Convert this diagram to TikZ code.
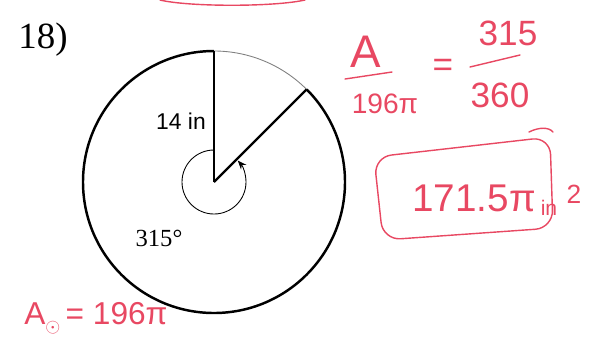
\documentclass[tikz,border=0pt]{standalone}
\usepackage{fontspec}
\setmainfont{Liberation Serif}
\setsansfont{Liberation Sans}
\usetikzlibrary{arrows.meta}
\definecolor{marker}{RGB}{232,72,98}

\begin{document}
\begin{tikzpicture}[
  >=Stealth,
  rim/.style={line width=1.4pt},
  faint/.style={line width=0.5pt, black!50},
  spoke/.style={line width=1.3pt},
  sweep/.style={-{Stealth[length=5pt,width=4pt]}, line width=0.5pt},
  ink/.style={text=marker, font=\sffamily, inner sep=0pt},
  stroke/.style={draw=marker, line width=0.8pt, line cap=round},
]
  \useasboundingbox (-4.28,-3.36) rectangle (7.82,3.64);
  % the circle and the cut-out sector
  \coordinate (O) at (0,0);
  \coordinate (top) at (90:2.62);
  \coordinate (cut) at (45:2.62);
  \draw[rim] (top) arc[start angle=90, end angle=405, radius=2.62];
  \draw[faint] (cut) arc[start angle=45, end angle=90, radius=2.62];
  \draw[spoke] (O) -- (top);
  \draw[spoke] (O) -- (cut);
  \draw[sweep] (90:0.64) arc[start angle=90, end angle=402, radius=0.64];
  \node[font=\fontsize{21}{24}\selectfont] (num) at (-3.42,2.84) {18)};
  \node[font=\sffamily\fontsize{13}{15}\selectfont] (rad) at (-0.66,1.22) {14 in};
  \node[font=\fontsize{14}{16}\selectfont] (ang) at (-1.1,-1.12) {315\textdegree};
  % red pen work
  \draw[stroke] (-1.08,3.64) .. controls (-0.5,3.5) and (1.2,3.5) .. (1.82,3.64);
  \node[ink, font=\sffamily\fontsize{26}{28}\selectfont] (part) at (3.04,2.6) {A};
  \draw[stroke] (2.62,2.06) -- (3.56,2.2);
  \node[ink, font=\sffamily\fontsize{16}{18}\selectfont] (whole) at (3.42,1.56) {196π};
  \node[ink, font=\sffamily\fontsize{20}{22}\selectfont] (eq) at (4.58,2.28) {=};
  \node[ink, font=\sffamily\fontsize{20}{22}\selectfont] (deg) at (5.88,2.98) {315};
  \draw[stroke] (5.12,2.3) -- (6.12,2.54);
  \node[ink, font=\sffamily\fontsize{20}{22}\selectfont] (full) at (5.72,1.74) {360};
  \node[ink, font=\sffamily\fontsize{22}{24}\selectfont] (ans) at (5.2,-0.32) {171.5π};
  \node[ink, font=\sffamily\fontsize{12}{14}\selectfont] (unit) at (6.7,-0.52) {in};
  \node[ink, font=\sffamily\fontsize{15}{17}\selectfont] (sq) at (7.2,-0.24) {2};
  \draw[stroke, rounded corners=10pt] (3.2,0.5) -- (6.72,0.9) -- (6.78,-0.92) -- (3.38,-1.16) -- cycle;
  \draw[stroke] (6.3,1.0) .. controls (6.5,1.1) and (6.7,1.1) .. (6.78,1.0);
  \node[ink, font=\sffamily\fontsize{18}{20}\selectfont] (area) at (-2.36,-2.72) {A\raisebox{-0.5ex}{\fontsize{11}{13}\selectfont$\odot$}\,= 196π};
\end{tikzpicture}
\end{document}
